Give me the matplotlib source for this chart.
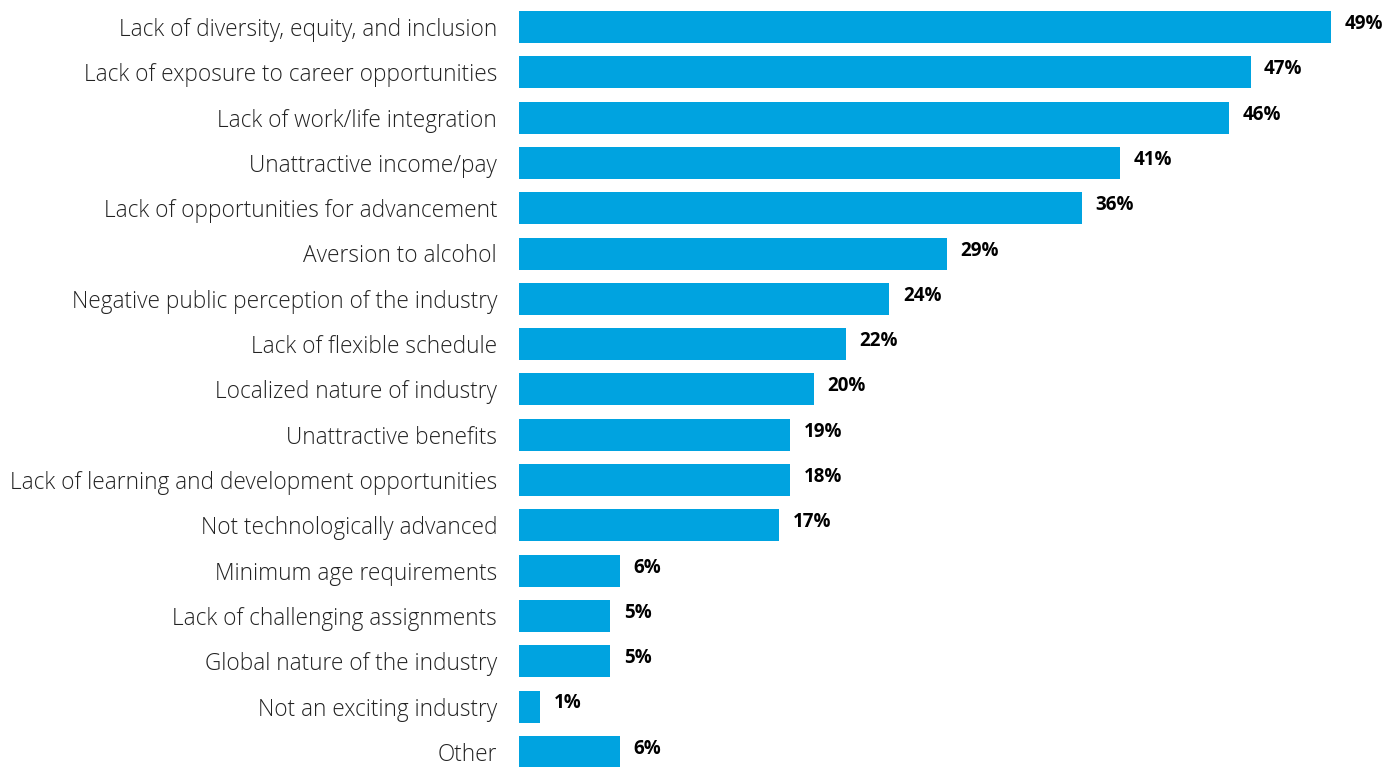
import matplotlib
matplotlib.use("Agg")
import matplotlib.pyplot as plt

categories = [
    "Lack of diversity, equity, and inclusion",
    "Lack of exposure to career opportunities",
    "Lack of work/life integration",
    "Unattractive income/pay",
    "Lack of opportunities for advancement",
    "Aversion to alcohol",
    "Negative public perception of the industry",
    "Lack of flexible schedule",
    "Localized nature of industry",
    "Unattractive benefits",
    "Lack of learning and development opportunities",
    "Not technologically advanced",
    "Minimum age requirements",
    "Lack of challenging assignments",
    "Global nature of the industry",
    "Not an exciting industry",
    "Other",
]
# bar lengths as drawn in the source (the drawing is not exactly to scale)
bar_lengths = [52.4, 47.2, 45.8, 38.8, 36.3, 27.6, 23.9, 21.1, 19.0, 17.5,
               17.5, 16.8, 6.5, 5.9, 5.9, 1.35, 6.5]
value_labels = ["49%", "47%", "46%", "41%", "36%", "29%", "24%", "22%", "20%",
                "19%", "18%", "17%", "6%", "5%", "5%", "1%", "6%"]

plt.rcParams['font.family'] = ['Open Sans', 'DejaVu Sans']

W, H = 1398, 767
fig = plt.figure(figsize=(W / 100, H / 100), dpi=100)
left = 519
ax = fig.add_axes([left / W, 0, (W - left) / W, 1])

px_per_unit = 15.5
pitch = 45.3
top_center = 27
n = len(categories)
ypos = list(range(n))

ax.barh(ypos, bar_lengths, height=32 / pitch, color="#00a3e0")
ax.set_xlim(0, (W - left) / px_per_unit)
ax.set_ylim((H - top_center) / pitch, -top_center / pitch)

for y, w, lab in zip(ypos, bar_lengths, value_labels):
    ax.text(w + 13.5 / px_per_unit, y - 3 / pitch, lab, va="center", ha="left",
            fontsize=13.5, fontweight="bold", color="#000000")

ax.set_yticks(ypos)
ax.set_yticklabels(categories, fontsize=16.3, color="#222222", fontweight="light")
ax.tick_params(axis="y", length=0, pad=15.8)
ax.set_xticks([])
for s in ax.spines.values():
    s.set_visible(False)

fig.savefig("out.png", dpi=100)
